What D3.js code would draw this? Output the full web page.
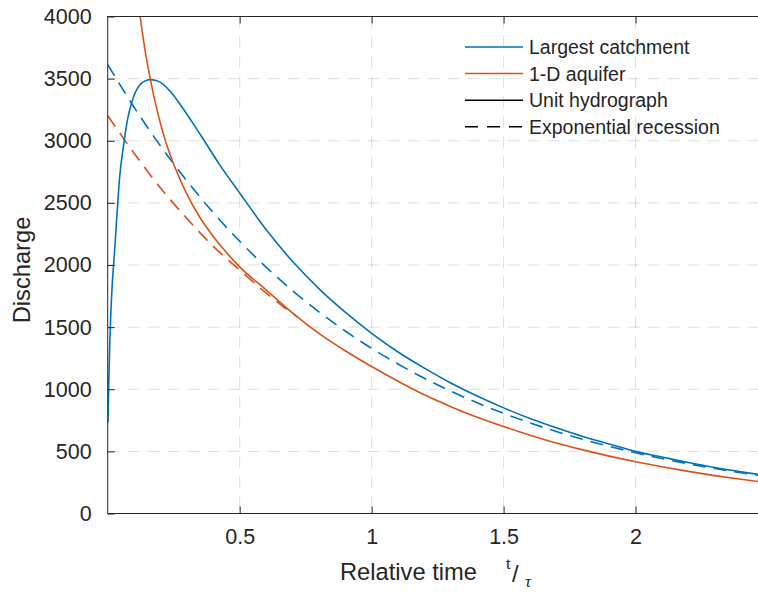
<!DOCTYPE html>
<html>
<head>
<meta charset="utf-8">
<script src="https://cdn.jsdelivr.net/npm/d3@7/dist/d3.min.js"></script>
<style>
  body { margin: 0; background: #fff; }
  svg text { font-family: "Liberation Sans", Arial, Helvetica, sans-serif; fill: #262626; }
</style>
</head>
<body>
<div id="chart"></div>
<script>
// tick values
const xTicks = [0.5, 1, 1.5, 2];
const yTicks = [0, 500, 1000, 1500, 2000, 2500, 3000, 3500, 4000];

// Largest catchment, unit hydrograph (blue solid)
const tUnit = [0.001, 0.004, 0.008, 0.012, 0.018, 0.025, 0.035, 0.045, 0.06, 0.075, 0.09, 0.105, 0.12, 0.14, 0.16, 0.18, 0.2, 0.24, 0.28, 0.32, 0.36, 0.42, 0.5, 0.6, 0.7, 0.8, 0.9, 1.0, 1.1, 1.2, 1.3, 1.4, 1.5, 1.6, 1.7, 1.8, 1.9, 2.0, 2.1, 2.2, 2.3, 2.4, 2.5];
const qUnit = [730, 1050, 1380, 1620, 1870, 2080, 2400, 2700, 2960, 3170, 3300, 3390, 3445, 3480, 3492, 3487, 3470, 3390, 3275, 3150, 3020, 2820, 2580, 2285, 2030, 1810, 1620, 1450, 1300, 1170, 1050, 945, 850, 765, 690, 620, 560, 500, 455, 410, 370, 335, 303];

// Largest catchment, exponential recession (blue dashed)
const tUnitExp = [0, 0.1, 0.2, 0.3, 0.4, 0.5, 0.6, 0.7, 0.8, 0.9, 1.0, 1.1, 1.2, 1.3, 1.4, 1.5, 1.6, 1.7, 1.8, 1.9, 2.0, 2.1, 2.2, 2.3, 2.4, 2.5];
const qUnitExp = [3613, 3270, 2958, 2677, 2422, 2191, 1983, 1794, 1623, 1469, 1329, 1203, 1088, 985, 891, 806, 729, 660, 597, 540, 489, 442, 400, 362, 328, 297];

// 1-D aquifer (orange solid)
const tAquifer = [0.1, 0.123, 0.14, 0.162, 0.19, 0.22, 0.26, 0.3, 0.35, 0.4, 0.45, 0.5, 0.6, 0.7, 0.8, 0.9, 1.0, 1.1, 1.2, 1.3, 1.4, 1.5, 1.6, 1.7, 1.8, 1.9, 2.0, 2.1, 2.2, 2.3, 2.4, 2.5];
const qAquifer = [4440, 4000, 3750, 3490, 3220, 2990, 2760, 2570, 2380, 2230, 2100, 1985, 1800, 1615, 1450, 1310, 1183, 1065, 955, 860, 775, 700, 630, 568, 512, 462, 417, 376, 339, 305, 275, 248];

// 1-D aquifer, exponential recession (orange dashed)
const tAquiferExp = [0, 0.1, 0.2, 0.3, 0.4, 0.5, 0.6, 0.7, 0.72];
const qAquiferExp = [3202, 2900, 2620, 2375, 2150, 1960, 1775, 1610, 1580];

const legendItems = [
  { label: "Largest catchment", color: "#0072BD", dash: null },
  { label: "1-D aquifer", color: "#D95319", dash: null },
  { label: "Unit hydrograph", color: "#000000", dash: null },
  { label: "Exponential recession", color: "#000000", dash: "13,9" }
];

const width = 758, height = 592;
const plot = { left: 107.7, right: 767.5, top: 16.5, bottom: 513.5 };

const svg = d3.select("#chart").append("svg")
  .attr("width", width)
  .attr("height", height);

const x = d3.scaleLinear().domain([0, 2.5]).range([plot.left, plot.right]);
const y = d3.scaleLinear().domain([0, 4000]).range([plot.bottom, plot.top]);

svg.append("defs").append("clipPath").attr("id", "clip")
  .append("rect")
  .attr("x", plot.left).attr("y", plot.top)
  .attr("width", plot.right - plot.left)
  .attr("height", plot.bottom - plot.top);

// grid
const grid = svg.append("g").attr("stroke", "#262626").attr("stroke-opacity", 0.15)
  .attr("stroke-width", 1).attr("stroke-dasharray", "12,8");
grid.selectAll(".gx").data(xTicks).enter().append("line")
  .attr("x1", d => x(d)).attr("x2", d => x(d))
  .attr("y1", plot.top).attr("y2", plot.bottom);
grid.selectAll(".gy").data(yTicks.filter(d => d > 0 && d < 4000)).enter().append("line")
  .attr("x1", plot.left).attr("x2", plot.right)
  .attr("y1", d => y(d)).attr("y2", d => y(d));

// curves
const line = d3.line().x(d => x(d[0])).y(d => y(d[1])).curve(d3.curveMonotoneX);
const series = [
  { t: tUnitExp, q: qUnitExp, color: "#0072BD", dash: "13,8" },
  { t: tAquiferExp, q: qAquiferExp, color: "#D95319", dash: "13,8" },
  { t: tUnit, q: qUnit, color: "#0072BD", dash: null },
  { t: tAquifer, q: qAquifer, color: "#D95319", dash: null }
];
const curves = svg.append("g").attr("clip-path", "url(#clip)");
series.forEach(s => {
  curves.append("path")
    .datum(d3.zip(s.t, s.q))
    .attr("d", line)
    .attr("fill", "none")
    .attr("stroke", s.color)
    .attr("stroke-width", 1.6)
    .attr("stroke-dasharray", s.dash);
});

// axes
const fmt = d => String(d);
const axisLeft = svg.append("g")
  .attr("transform", `translate(${plot.left},0)`)
  .call(d3.axisLeft(y).tickValues(yTicks).tickFormat(fmt).tickSize(-7).tickSizeOuter(0).tickPadding(16));
const axisBottom = svg.append("g")
  .attr("transform", `translate(0,${plot.bottom})`)
  .call(d3.axisBottom(x).tickValues(xTicks).tickFormat(fmt).tickSize(-7).tickSizeOuter(0).tickPadding(15));
const axisTop = svg.append("g")
  .attr("transform", `translate(0,${plot.top})`)
  .call(d3.axisTop(x).tickValues(xTicks).tickSize(-7).tickSizeOuter(0).tickFormat(""));
const axisRight = svg.append("g")
  .attr("transform", `translate(${plot.right},0)`)
  .call(d3.axisRight(y).tickValues(yTicks).tickSize(-7).tickSizeOuter(0).tickFormat(""));

[axisLeft, axisBottom, axisTop, axisRight].forEach(g => {
  g.select(".domain").remove();
  g.selectAll("line").attr("stroke", "#262626");
  g.selectAll("text").style("font-size", "21.5px").attr("fill", "#262626");
});

svg.append("rect")
  .attr("x", plot.left).attr("y", plot.top)
  .attr("width", plot.right - plot.left)
  .attr("height", plot.bottom - plot.top)
  .attr("fill", "none")
  .attr("stroke", "#262626")
  .attr("stroke-width", 1);

// axis labels
svg.append("text")
  .attr("transform", `translate(29.5,${(plot.top + plot.bottom) / 2 + 5}) rotate(-90)`)
  .attr("text-anchor", "middle")
  .style("font-size", "23.7px")
  .text("Discharge");

const xl = svg.append("g");
xl.append("text")
  .attr("x", 340).attr("y", 580)
  .style("font-size", "23.7px")
  .text("Relative time");
xl.append("text")
  .attr("x", 506).attr("y", 569)
  .style("font-size", "15.5px")
  .text("t");
xl.append("text")
  .attr("x", 512).attr("y", 582)
  .style("font-size", "23.7px")
  .text("/");
xl.append("text")
  .attr("x", 525).attr("y", 587)
  .style("font-size", "17px")
  .style("font-family", "'Liberation Serif', 'DejaVu Serif', serif")
  .style("font-style", "italic")
  .text("τ");

// legend
const legend = svg.append("g");
legendItems.forEach((d, i) => {
  const ly = 47 + i * 26.6;
  legend.append("line")
    .attr("x1", 465).attr("x2", 523)
    .attr("y1", ly).attr("y2", ly)
    .attr("stroke", d.color)
    .attr("stroke-width", 1.5)
    .attr("stroke-dasharray", d.dash);
  legend.append("text")
    .attr("x", 529).attr("y", ly + 7)
    .style("font-size", "19.5px")
    .text(d.label);
});
</script>
</body>
</html>
